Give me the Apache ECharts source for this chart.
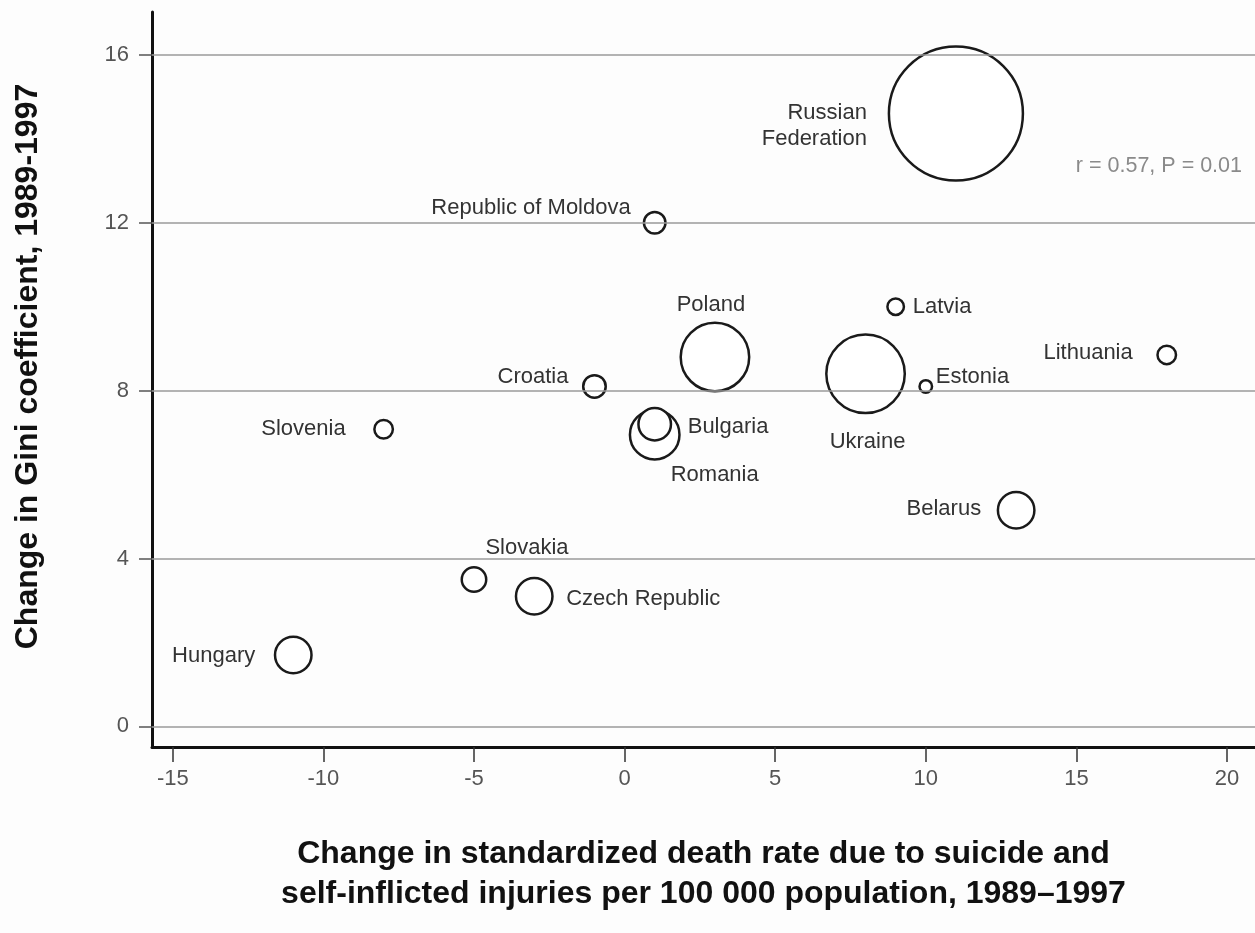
<!DOCTYPE html>
<html>
<head>
<meta charset="utf-8">
<script src="https://cdn.jsdelivr.net/npm/echarts@6/dist/echarts.min.js"></script>
<style>
html,body{margin:0;padding:0;background:#fdfdfd;}
#chart{width:1255px;height:933px;}
</style>
</head>
<body>
<div id="chart"></div>
<script>
// ---- data ----
const countries = ["Russian Federation","Ukraine","Poland","Romania","Bulgaria","Czech Republic","Belarus","Hungary","Slovakia","Croatia","Republic of Moldova","Lithuania","Slovenia","Latvia","Estonia"];
const suicideChange = [11, 8, 3, 1, 1, -3, 13, -11, -5, -1, 1, 18, -8, 9, 10];
const giniChange = [14.6, 8.4, 8.8, 6.95, 7.2, 3.1, 5.15, 1.7, 3.5, 8.1, 12.0, 8.85, 7.08, 10.0, 8.1];
const population = [147, 50.4, 38.4, 20.1, 8.65, 10.9, 10.9, 10.9, 4.9, 4.15, 3.8, 2.8, 2.8, 2.23, 1.28];
const xTicks = [-15, -10, -5, 0, 5, 10, 15, 20];
const yTicks = [0, 4, 8, 12, 16];
const annotation = "r = 0.57, P = 0.01";

// ---- label placement (style only) ----
const labelPlace = {
  "Russian Federation": {text: "Russian\nFederation", align: "right", offset: [-89, 12]},
  "Republic of Moldova": {align: "right", offset: [-24, -15]},
  "Poland": {align: "center", offset: [-4, -52]},
  "Croatia": {align: "right", offset: [-26, -9]},
  "Bulgaria": {align: "left", offset: [33, 3]},
  "Romania": {align: "center", offset: [60, 40]},
  "Latvia": {align: "left", offset: [17, 0]},
  "Ukraine": {align: "center", offset: [2, 68]},
  "Estonia": {align: "left", offset: [10, -9]},
  "Lithuania": {align: "right", offset: [-34, -2]},
  "Belarus": {align: "right", offset: [-35, -1]},
  "Slovenia": {align: "right", offset: [-38, 0]},
  "Slovakia": {align: "center", offset: [53, -32]},
  "Czech Republic": {align: "left", offset: [32, 3]},
  "Hungary": {align: "right", offset: [-38, 1]}
};

const FONT = "'Liberation Sans', Arial, Helvetica, sans-serif";
const sizeScale = 134 / Math.sqrt(147);

const seriesData = countries.map((c, i) => {
  const p = labelPlace[c];
  return {
    name: c,
    value: [suicideChange[i], giniChange[i], population[i]],
    label: {
      show: true,
      position: "inside",
      align: p.align,
      verticalAlign: "middle",
      offset: p.offset,
      formatter: p.text || c
    }
  };
});

const chart = echarts.init(document.getElementById("chart"), null, {renderer: "canvas"});
chart.setOption({
  backgroundColor: "#fdfdfd",
  animation: false,
  grid: {left: 152, top: 12, right: 0, bottom: 186, containLabel: false},
  xAxis: {
    type: "value",
    min: -15.69,
    max: 20.93,
    name: "Change in standardized death rate due to suicide and\nself-inflicted injuries per 100 000 population, 1989\u20131997",
    nameLocation: "middle",
    nameGap: 87,
    nameTextStyle: {fontFamily: FONT, fontWeight: "bold", fontSize: 32, color: "#111", lineHeight: 40},
    axisLine: {onZero: false, lineStyle: {color: "#111", width: 3}},
    axisTick: {show: true, inside: false, length: 15, customValues: xTicks, lineStyle: {color: "#333", width: 1.5}},
    axisLabel: {customValues: xTicks, margin: 21, fontFamily: FONT, fontSize: 22, color: "#555",
      formatter: v => String(v)},
    splitLine: {show: false}
  },
  yAxis: {
    type: "value",
    min: -0.49,
    max: 17.02,
    name: "Change in Gini coefficient, 1989-1997",
    nameLocation: "middle",
    nameRotate: 90,
    nameGap: 108,
    nameTextStyle: {fontFamily: FONT, fontWeight: "bold", fontSize: 32, color: "#111", padding: [0, 0, 0, 26]},
    axisLine: {onZero: false, lineStyle: {color: "#111", width: 3}},
    axisTick: {show: true, inside: false, length: 13, customValues: yTicks, lineStyle: {color: "#555", width: 1.5}},
    axisLabel: {customValues: yTicks, margin: 23, fontFamily: FONT, fontSize: 22, color: "#555",
      formatter: v => String(v)},
    splitLine: {show: false}
  },
  graphic: [{
    type: "text",
    right: 13,
    top: 155,
    style: {text: annotation, fontFamily: FONT, fontSize: 21.5, fill: "#8a8a8a"}
  }],
  series: [{
    type: "scatter",
    data: seriesData,
    symbol: "circle",
    symbolSize: v => Math.sqrt(v[2]) * sizeScale,
    itemStyle: {color: "#ffffff", borderColor: "#1a1a1a", borderWidth: 2.5, opacity: 1},
    label: {fontFamily: FONT, fontSize: 22, color: "#333", lineHeight: 26},
    emphasis: {disabled: true},
    markLine: {
      silent: true,
      symbol: ["none", "none"],
      label: {show: false},
      lineStyle: {color: "#9a9a9a", width: 1.5, type: "solid"},
      data: yTicks.map(v => ({yAxis: v}))
    },
    z: 3
  }]
});
</script>
</body>
</html>
